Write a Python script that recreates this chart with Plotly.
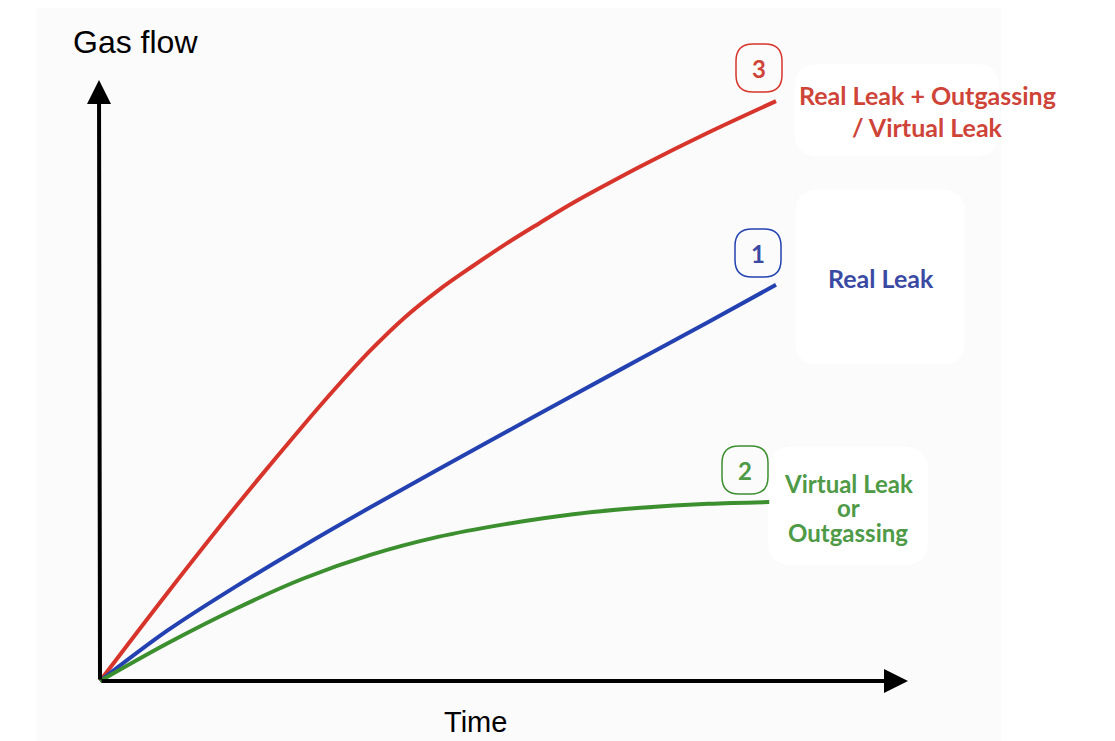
import plotly.graph_objects as go

# curve values (time 0..10, gas flow in arbitrary units)
time_red = [0, 1, 2, 3, 3.5, 4, 4.5, 5, 5.5, 6, 6.5, 7, 7.5, 8, 9, 10]
real_plus_outgassing = [0, 1.52, 2.99, 4.39, 5.06, 5.69, 6.25, 6.72, 7.13, 7.52,
                        7.88, 8.23, 8.55, 8.86, 9.44, 9.98]
time = [0, 1, 2, 3, 4, 5, 6, 7, 8, 9, 10]
real_leak = [0, 0.87, 1.62, 2.32, 2.99, 3.64, 4.28, 4.92, 5.55, 6.18, 6.82]
time_green = [0, 1, 2, 3, 4, 5, 6, 7, 8, 9, 9.9]
virtual_leak = [0, 0.65, 1.24, 1.76, 2.17, 2.48, 2.70, 2.87, 2.98, 3.05, 3.08]

# pixel scale of the drawing
W, H = 1115, 741
X0, Y0 = 100, 681          # origin in pixels
PX_X, PX_Y = 67.6, 58.1    # pixels per unit

RED, RED_TXT = "#d7352b", "#cf4438"
BLUE, BLUE_TXT = "#2341b0", "#3a4aa3"
GREEN, GREEN_TXT = "#3b8f2e", "#4e9a47"


def px(x, y):
    """pixel position -> data coords"""
    return (x - X0) / PX_X, (Y0 - y) / PX_Y


def rounded_box(x, y, w, h, r):
    """rounded rect path (pixel centre/size) in data coords"""
    l, t, rr, b = x - w / 2, y - h / 2, x + w / 2, y + h / 2
    def p(a, c):
        dx, dy = px(a, c)
        return f"{dx:.4f},{dy:.4f}"
    return (f"M{p(l + r, t)} L{p(rr - r, t)} Q{p(rr, t)} {p(rr, t + r)} "
            f"L{p(rr, b - r)} Q{p(rr, b)} {p(rr - r, b)} L{p(l + r, b)} "
            f"Q{p(l, b)} {p(l, b - r)} L{p(l, t + r)} Q{p(l, t)} {p(l + r, t)} Z")


fig = go.Figure()

fig.add_trace(go.Scatter(x=time_red, y=real_plus_outgassing, mode="lines",
                         line=dict(color=RED, width=4, shape="spline", smoothing=1)))
fig.add_trace(go.Scatter(x=time, y=real_leak, mode="lines",
                         line=dict(color=BLUE, width=4, shape="spline", smoothing=1)))
fig.add_trace(go.Scatter(x=time_green, y=virtual_leak, mode="lines",
                         line=dict(color=GREEN, width=4, shape="spline", smoothing=1)))

# faint grey canvas behind the sketch
bx0, by0 = px(37, 8)
bx1, by1 = px(1001, 741)
shapes = [dict(type="rect", x0=bx0, y0=by1, x1=bx1, y1=by0, fillcolor="#fbfbfb",
               line=dict(width=0), layer="below")]
# white label boxes
for (cx, cy, w, h) in [(897, 110, 205, 92), (880, 277, 170, 175), (848, 506, 160, 118)]:
    shapes.append(dict(type="path", path=rounded_box(cx, cy, w, h, 24),
                       fillcolor="white", line=dict(width=0), layer="below"))
# numbered badges
for (cx, cy, col) in [(759, 68, RED), (758, 253, BLUE), (745, 470, GREEN)]:
    shapes.append(dict(type="path", path=rounded_box(cx, cy, 46, 48, 17),
                       fillcolor="rgba(0,0,0,0)", line=dict(color=col, width=1.5)))

annotations = []
# axes with arrows
for (x1, y1) in [px(99, 80), px(908, 681)]:
    annotations.append(dict(x=x1, y=y1, ax=0, ay=0, xref="x", yref="y",
                            axref="x", ayref="y", showarrow=True, text="",
                            arrowhead=2, arrowsize=1.2, arrowwidth=4,
                            arrowcolor="black"))


def label(txt, x, y, col, size=25, bold=True, family="Lato"):
    dx, dy = px(x, y)
    annotations.append(dict(x=dx, y=dy, xref="x", yref="y", showarrow=False,
                            text=f"<b>{txt}</b>" if bold else txt,
                            font=dict(family=family, size=size, color=col),
                            xanchor="center", yanchor="middle", borderpad=0))


label("3", 759, 68, RED_TXT, 24)
label("1", 758, 253, BLUE_TXT, 24)
label("2", 745, 470, GREEN_TXT, 24)
label("Real Leak + Outgassing", 927, 95, RED_TXT)
label("/ Virtual Leak", 927, 127, RED_TXT)
label("Real Leak", 881, 278, BLUE_TXT)
label("Virtual Leak", 848, 483, GREEN_TXT, 24)
label("or", 848, 507, GREEN_TXT, 24)
label("Outgassing", 848, 532, GREEN_TXT, 24)
label("Gas flow", 135, 42, "black", 32, False, "Liberation Sans")
label("Time", 475, 722, "black", 29, False, "Liberation Sans")

fig.update_layout(
    width=W, height=H,
    margin=dict(l=0, r=0, t=0, b=0),
    paper_bgcolor="white", plot_bgcolor="rgba(0,0,0,0)",
    showlegend=False,
    shapes=shapes, annotations=annotations,
    xaxis=dict(range=[-X0 / PX_X, (W - X0) / PX_X], visible=False, fixedrange=True),
    yaxis=dict(range=[-(H - Y0) / PX_Y, Y0 / PX_Y], visible=False, fixedrange=True),
)

fig.write_html("out.html", config={"displayModeBar": False},
               post_script="document.body.style.margin='0';")
